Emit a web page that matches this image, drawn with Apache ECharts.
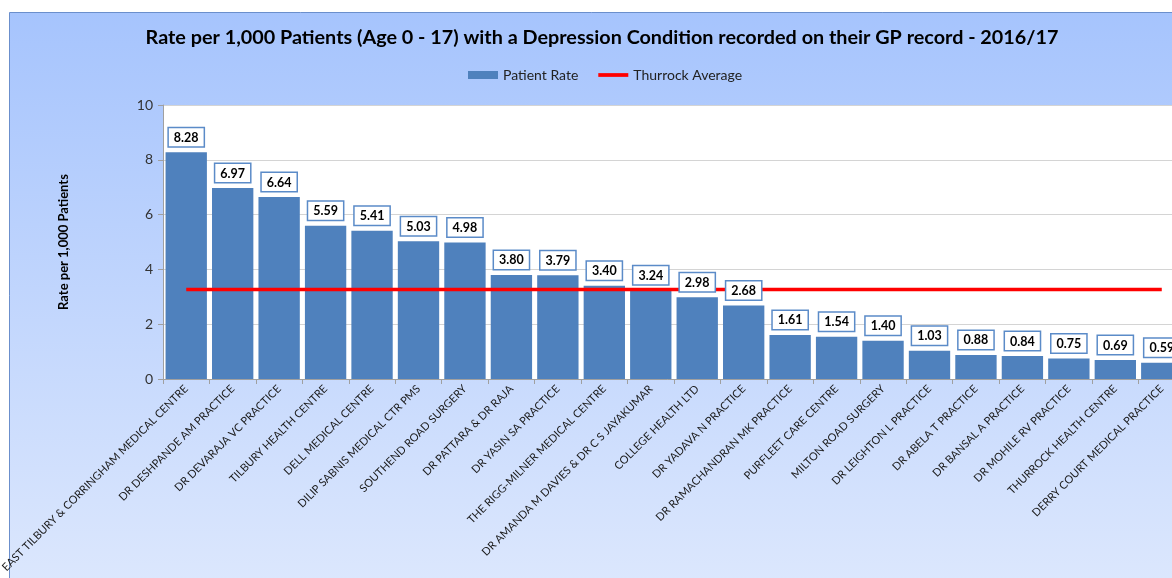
<!DOCTYPE html>
<html>
<head>
<meta charset="utf-8">
<script src="https://cdn.jsdelivr.net/npm/echarts@6/dist/echarts.min.js"></script>
<style>
html,body{margin:0;padding:0;background:#fff;}
#chart{width:1172px;height:578px;}
</style>
</head>
<body>
<div id="chart"></div>
<script>
const categories = [
  'EAST TILBURY & CORRINGHAM MEDICAL CENTRE',
  'DR DESHPANDE AM PRACTICE',
  'DR DEVARAJA VC PRACTICE',
  'TILBURY HEALTH CENTRE',
  'DELL MEDICAL CENTRE',
  'DILIP SABNIS MEDICAL CTR PMS',
  'SOUTHEND ROAD SURGERY',
  'DR PATTARA & DR RAJA',
  'DR YASIN SA PRACTICE',
  'THE RIGG-MILNER MEDICAL CENTRE',
  'DR AMANDA M DAVIES & DR C S JAYAKUMAR',
  'COLLEGE HEALTH LTD',
  'DR YADAVA N PRACTICE',
  'DR RAMACHANDRAN MK PRACTICE',
  'PURFLEET CARE CENTRE',
  'MILTON ROAD SURGERY',
  'DR LEIGHTON L PRACTICE',
  'DR ABELA T PRACTICE',
  'DR BANSAL A PRACTICE',
  'DR MOHILE RV PRACTICE',
  'THURROCK HEALTH CENTRE',
  'DERRY COURT MEDICAL PRACTICE'
];
const patientRate = [8.28, 6.97, 6.64, 5.59, 5.41, 5.03, 4.98, 3.80, 3.79, 3.40, 3.24, 2.98, 2.68, 1.61, 1.54, 1.40, 1.03, 0.88, 0.84, 0.75, 0.69, 0.59];
const thurrockAverage = [3.27, 3.27, 3.27, 3.27, 3.27, 3.27, 3.27, 3.27, 3.27, 3.27, 3.27, 3.27, 3.27, 3.27, 3.27, 3.27, 3.27, 3.27, 3.27, 3.27, 3.27, 3.27];
const yTicks = [0, 2, 4, 6, 8, 10];

const FONT = 'Lato';
const chart = echarts.init(document.getElementById('chart'), null, {renderer: 'canvas'});
chart.setOption({
  animation: false,
  textStyle: {fontFamily: FONT},
  graphic: {
    elements: [{
      type: 'rect', z: -100, silent: true,
      shape: {x: 9.5, y: 12.5, width: 1300, height: 700},
      style: {
        fill: new echarts.graphic.LinearGradient(0, 0, 0, 1, [
          {offset: 0, color: '#a6c4fd'},
          {offset: 1, color: '#e8effd'}
        ]),
        stroke: '#6b8fcc', lineWidth: 1
      }
    }]
  },
  title: {
    text: 'Rate per 1,000 Patients (Age 0 - 17) with a Depression Condition recorded on their GP record - 2016/17',
    left: 597, top: 23, textAlign: 'center',
    textStyle: {fontFamily: FONT, fontWeight: 'bold', fontSize: 19.8, color: '#000'}
  },
  legend: {
    data: [
      {name: 'Patient Rate', icon: 'rect'},
      {name: 'Thurrock Average', icon: 'path://M0,0H32V4H0Z'}
    ],
    left: 463, top: 63,
    itemWidth: 30, itemHeight: 8, itemGap: 20,
    textStyle: {fontFamily: FONT, fontSize: 14, color: '#222'}
  },
  grid: {
    left: 163, top: 105, width: 1022, height: 274,
    outerBoundsMode: 'none', containLabel: false,
    show: true, backgroundColor: '#fff', borderWidth: 0
  },
  xAxis: {
    type: 'category',
    data: categories,
    axisLine: {lineStyle: {color: '#a0a0a0', width: 1}},
    axisTick: {show: true, alignWithLabel: false, length: 5, lineStyle: {color: '#a0a0a0'}},
    axisLabel: {interval: 0, rotate: 45, fontSize: 11, color: '#1a1a1a', margin: 8, fontFamily: FONT}
  },
  yAxis: {
    type: 'value', min: 0, max: 10, interval: 2,
    name: 'Rate per 1,000 Patients', nameLocation: 'middle', nameRotate: 90, nameGap: 93,
    nameTextStyle: {fontFamily: FONT, fontWeight: 'bold', fontSize: 13, color: '#000'},
    axisLine: {show: true, lineStyle: {color: '#a0a0a0'}},
    axisTick: {show: true, length: 5, lineStyle: {color: '#a0a0a0'}},
    axisLabel: {fontSize: 14, color: '#333', margin: 10, fontFamily: FONT,
      formatter: v => yTicks.includes(v) ? String(v) : ''},
    splitLine: {lineStyle: {color: '#d4d4d4'}}
  },
  series: [
    {
      name: 'Patient Rate', type: 'bar', data: patientRate, z: 2,
      barCategoryGap: '11%',
      itemStyle: {color: '#4f81bd'}
    },
    {
      name: 'Thurrock Average', type: 'line', data: thurrockAverage, z: 3,
      symbol: 'none', showSymbol: false,
      lineStyle: {color: '#ff0000', width: 3.5}, itemStyle: {color: '#ff0000'}
    },
    {
      name: 'labels', type: 'bar', data: patientRate, z: 4, silent: true,
      barGap: '-100%', barCategoryGap: '11%',
      itemStyle: {color: 'rgba(0,0,0,0)'},
      label: {
        show: true, position: 'top', distance: 6,
        formatter: p => p.value.toFixed(2),
        fontFamily: FONT, fontWeight: 'bold', fontSize: 12.5, color: '#000',
        backgroundColor: '#fff', borderColor: '#5b8bc8', borderWidth: 1.5,
        padding: [3, 5, 2, 5]
      }
    }
  ]
});
</script>
</body>
</html>
